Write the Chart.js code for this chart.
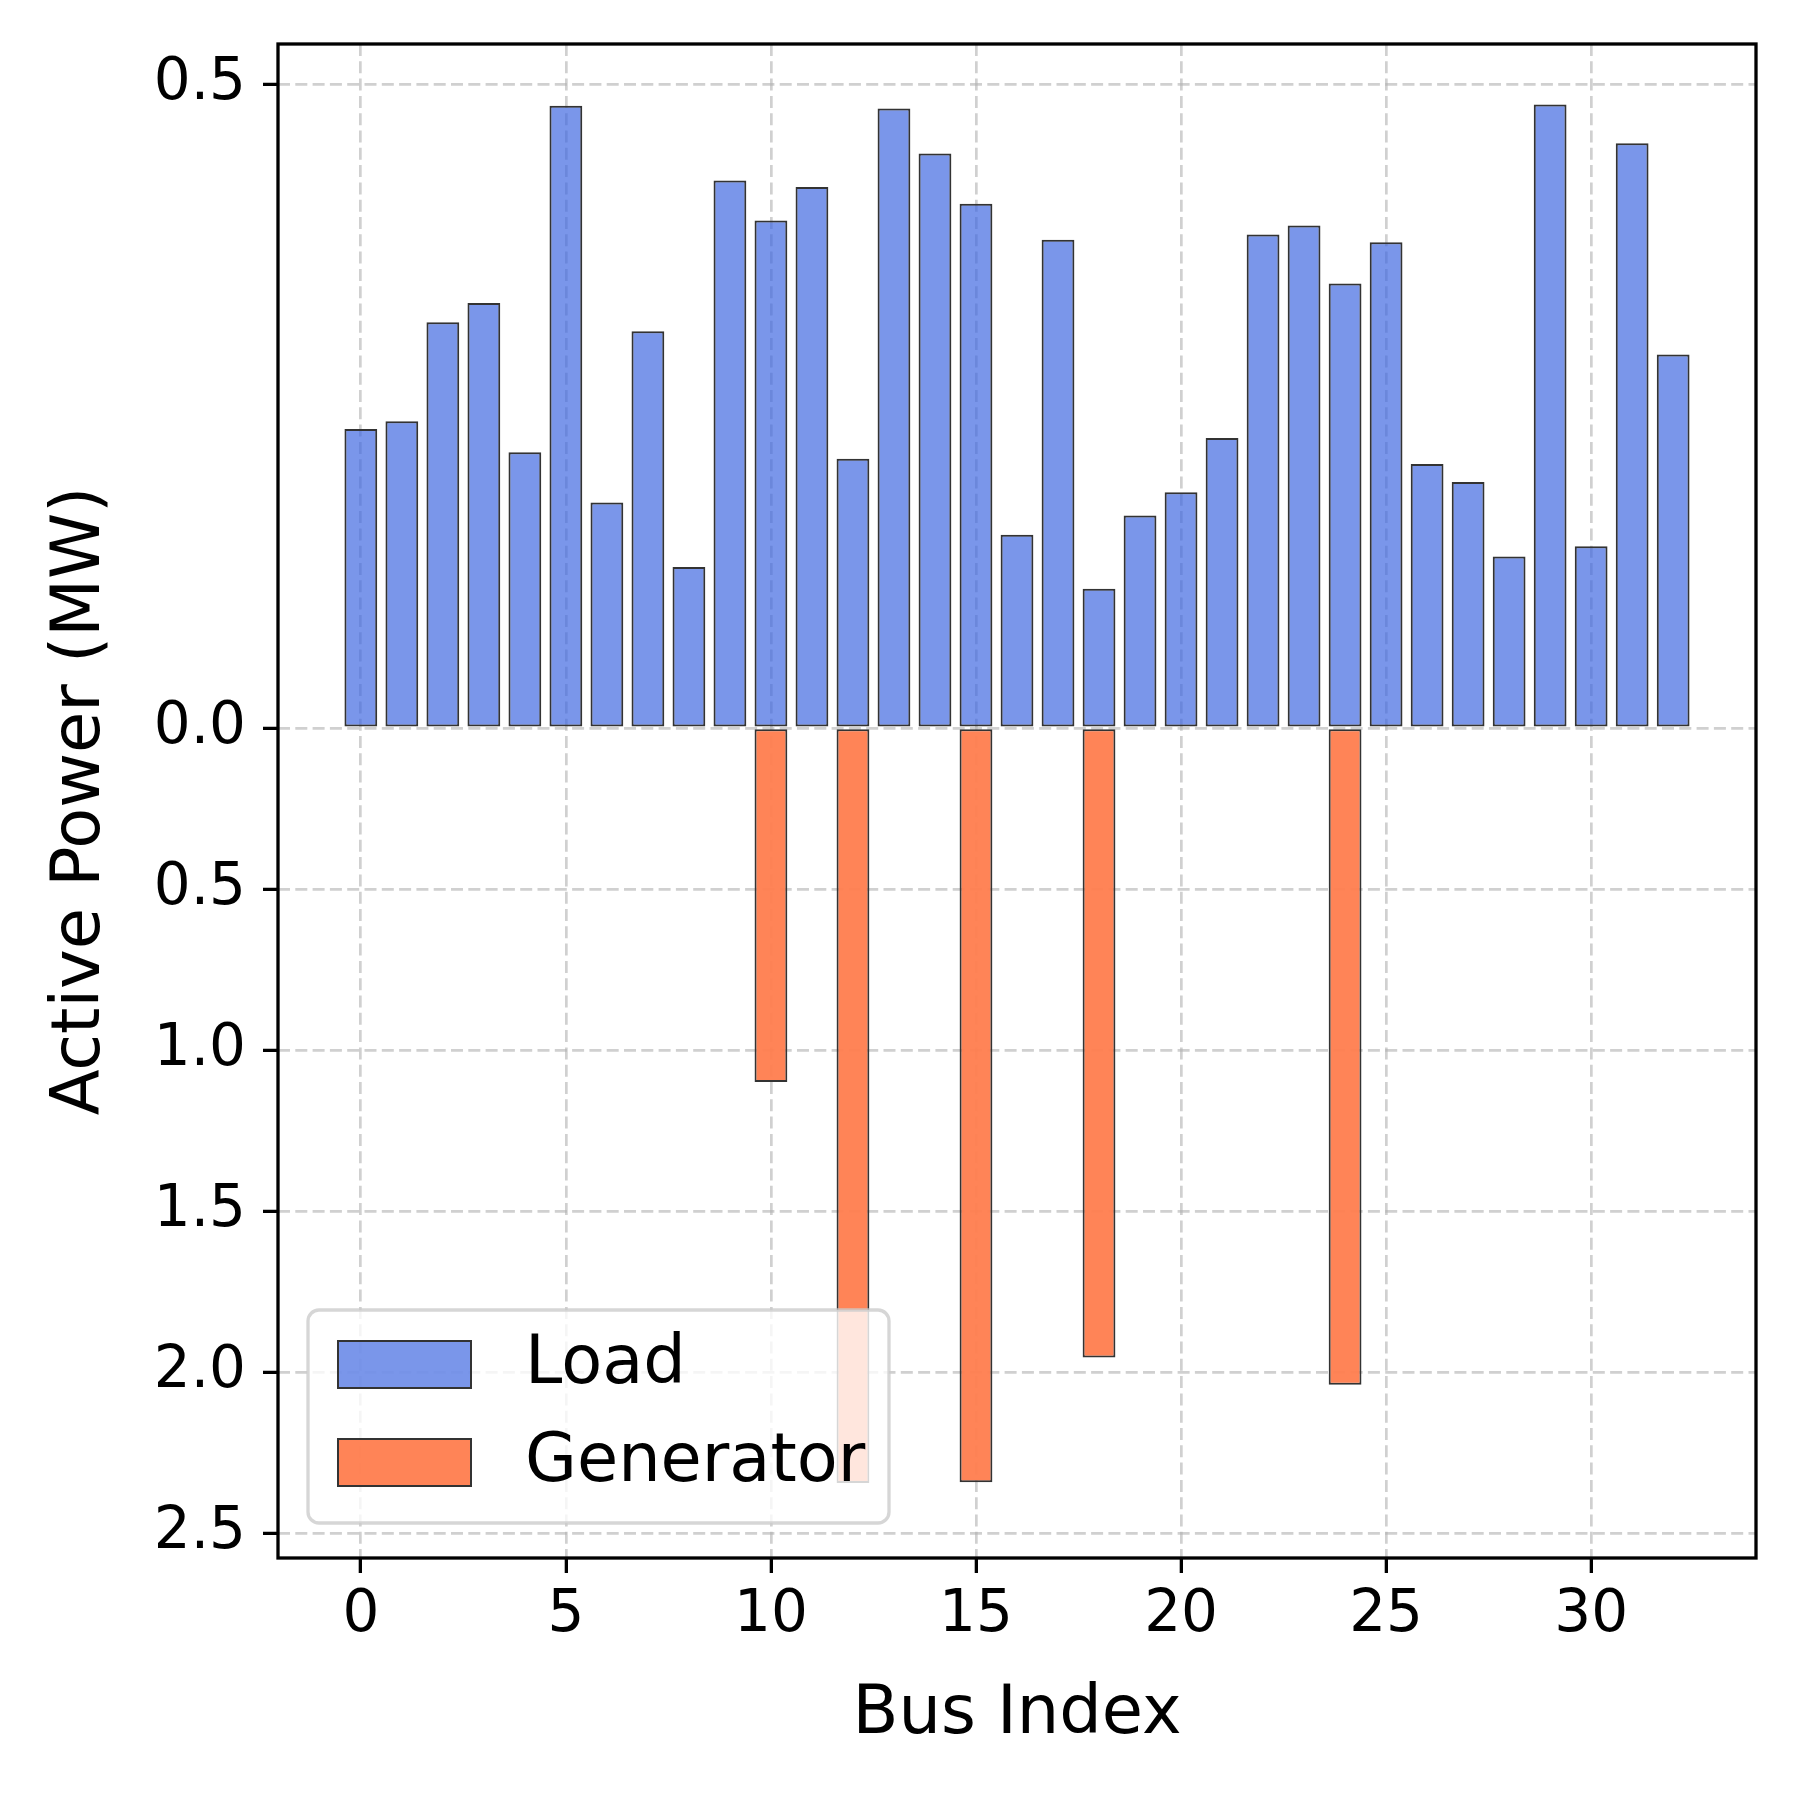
<!DOCTYPE html>
<html>
<head>
<meta charset="utf-8">
<script src="https://cdn.jsdelivr.net/npm/chart.js@4.4.1/dist/chart.umd.min.js"></script>
<style>
  html, body { margin: 0; padding: 0; background: #fff; }
  #wrap { width: 1800px; height: 1800px; }
</style>
</head>
<body>
<div id="wrap"><canvas id="plot" width="1800" height="1800"></canvas></div>
<script>
// bus loads (MW) - drawn above zero, axis stretched x4 on that side
const loadBus = [0,1,2,3,4,5,6,7,8,9,10,11,12,13,14,15,16,17,18,19,20,21,22,23,24,25,26,27,28,29,30,31,32]
const loadMW = [0.232,0.238,0.315,0.330,0.214,0.483,0.175,0.308,0.125,0.425,0.394,0.420,0.209,0.481,
    0.446,0.407,0.150,0.379,0.108,0.165,0.183,0.225,0.383,0.390,0.345,0.377,0.205,0.191,0.133,0.484,
    0.141,0.454,0.290]

// generator injections (MW) - drawn below zero
const genBus = [10,12,15,18,24]
const genMW = [1.10,2.345,2.343,1.955,2.04]

const xTicks = [0,5,10,15,20,25,30]
const yTickLabels = ['2.5','2.0','1.5','1.0','0.5','0.0','0.5']
const LOAD_SCALE = 4  // positive half of axis is 4x stretched

const yTickValues = [-2.5,-2,-1.5,-1,-0.5,0,0.5*LOAD_SCALE]

const FONT = 'DejaVu Sans'

// matplotlib-ish frame + legend inside the axes
const framePlugin = {
    id: 'frame',
    afterDatasetsDraw(chart) {
        const ctx = chart.ctx
        // legend box, lower left
        const lx = 308, ly = 1310, lw = 581, lh = 213, r = 11
        ctx.save()
        ctx.beginPath()
        ctx.roundRect(lx, ly, lw, lh, r)
        ctx.fillStyle = 'rgba(255,255,255,0.8)'
        ctx.fill()
        ctx.lineWidth = 3.3
        ctx.strokeStyle = 'rgba(204,204,204,0.8)'
        ctx.stroke()

        const items = [
            {ds: chart.data.datasets[0], y: 1341},
            {ds: chart.data.datasets[1], y: 1439}
        ]
        ctx.font = '67px "' + FONT + '"'
        ctx.textBaseline = 'middle'
        ctx.textAlign = 'left'
        items.forEach(it => {
            ctx.fillStyle = it.ds.backgroundColor
            ctx.fillRect(338, it.y, 133, 47)
            ctx.lineWidth = 2
            ctx.strokeStyle = it.ds.borderColor
            ctx.strokeRect(338, it.y, 133, 47)
            ctx.fillStyle = '#000'
            ctx.fillText(it.ds.label, 525, it.y + 25)
        })
        ctx.restore()
    },
    afterDraw(chart) {
        const ctx = chart.ctx
        const a = chart.chartArea
        ctx.save()
        ctx.lineWidth = 3.3
        ctx.strokeStyle = '#000'
        ctx.strokeRect(a.left, a.top, a.right - a.left, a.bottom - a.top)
        ctx.restore()
    }
}

const gridOpts = {
    color: 'rgba(176,176,176,0.6)',
    lineWidth: 2.7,
    offset: false,
    tickColor: '#000',
    tickWidth: 3.3,
    tickLength: 15,
    tickBorderDash: [1, 0]
}
const borderOpts = { display: false, dash: [12, 5.3] }

const chart = new Chart(
    document.getElementById('plot'),
    {
      type: 'bar',
      data: {
        datasets: [
          {
            label: 'Load',
            data: loadBus.map((b, i) => ({x: b, y: loadMW[i] * LOAD_SCALE})),
            backgroundColor: 'rgba(65,105,225,0.7)',
            borderColor: '#333333',
            borderWidth: 2,
            borderSkipped: false,
            grouped: false,
            barPercentage: 0.8,
            categoryPercentage: 1.0
          },
          {
            label: 'Generator',
            data: genBus.map((b, i) => ({x: b, y: -genMW[i]})),
            backgroundColor: 'rgba(255,127,80,0.96)',
            borderColor: '#333333',
            borderWidth: 2,
            borderSkipped: false,
            grouped: false,
            barPercentage: 0.8,
            categoryPercentage: 1.0
          }
        ]
      },
      options: {
        responsive: false,
        animation: false,
        devicePixelRatio: 1,
        events: [],
        layout: { padding: { left: 0, top: 44, right: 44, bottom: 0 } },
        plugins: {
            legend: { display: false },
            tooltip: { enabled: false }
        },
        scales: {
            x: {
                type: 'linear',
                offset: false,
                min: -2.02,
                max: 34.02,
                afterBuildTicks: s => { s.ticks = xTicks.map(v => ({value: v})) },
                afterFit: s => {
                    s.height = 242
                    s.paddingLeft = 0
                    s.paddingRight = 0
                },
                grid: gridOpts,
                border: borderOpts,
                ticks: {
                    color: '#000',
                    padding: 8,
                    maxRotation: 0,
                    font: { family: FONT, size: 58 },
                    callback: v => String(v)
                },
                title: {
                    display: true,
                    text: 'Bus Index',
                    color: '#000',
                    font: { family: FONT, size: 67 },
                    padding: { top: 0, bottom: 44 }
                }
            },
            y: {
                type: 'linear',
                min: -2.578,
                max: 2.124,
                afterBuildTicks: s => { s.ticks = yTickValues.map(v => ({value: v})) },
                afterFit: s => {
                    s.width = 278
                    s.paddingTop = 0
                    s.paddingBottom = 0
                },
                grid: gridOpts,
                border: borderOpts,
                ticks: {
                    color: '#000',
                    padding: 17,
                    font: { family: FONT, size: 58 },
                    callback: (v, i) => yTickLabels[i]
                },
                title: {
                    display: true,
                    text: 'Active Power (MW)',
                    color: '#000',
                    font: { family: FONT, size: 67 },
                    padding: { top: 41, bottom: 0 }
                }
            }
        }
      },
      plugins: [framePlugin]
    }
  );
</script>
</body>
</html>
